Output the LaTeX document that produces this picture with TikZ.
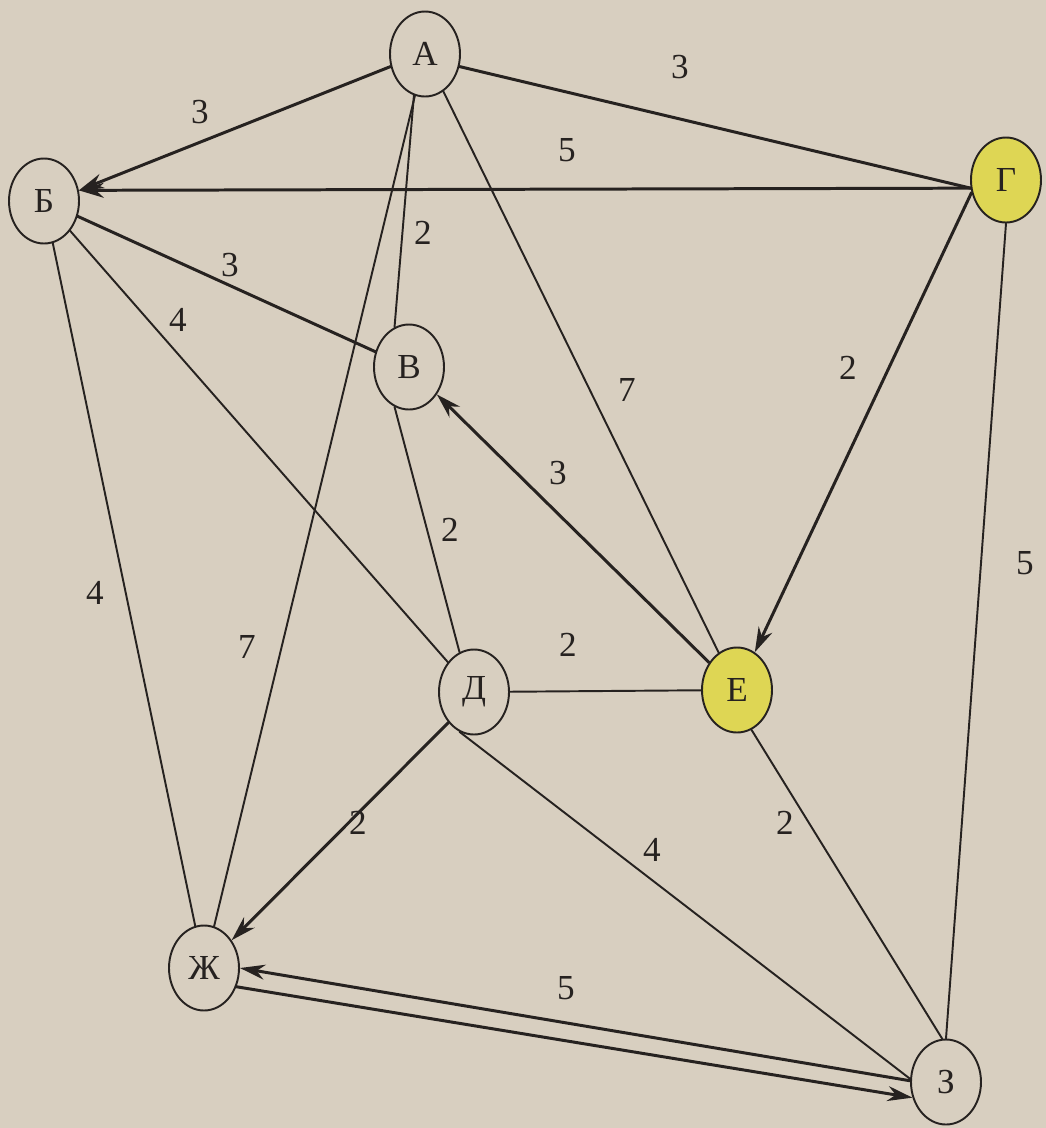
\documentclass[tikz,border=0pt]{standalone}
\usepackage{fontspec}
\setmainfont{Liberation Serif}
\usetikzlibrary{arrows.meta,shapes.geometric}

\definecolor{paper}{RGB}{216,207,192}
\definecolor{ink}{RGB}{38,34,32}
\definecolor{marker}{RGB}{222,214,84}

\begin{document}
\begin{tikzpicture}[x=0.2mm,y=-0.2mm]
\tikzset{
  vertex/.style={ellipse,draw=ink,line width=1.1pt,minimum width=14mm,minimum height=17mm,inner sep=0pt,fill=paper,text=ink,font=\fontsize{20}{23}\selectfont},
  marked/.style={vertex,fill=marker},
  graphedge/.style={draw=ink,line width=1.1pt,line cap=round,line join=round},
  heavyedge/.style={graphedge,line width=1.7pt},
  directed/.style={heavyedge,-{Stealth[length=5mm,width=3mm]}},
  weight/.style={font=\fontsize{20}{23}\selectfont,text=ink,inner sep=1pt}
}
\fill[paper] (0,0) rectangle (1046,1128);
\useasboundingbox (0,0) rectangle (1046,1128);
\node[vertex] (n_A) at (425,54) {А};
\node[vertex] (n_B) at (44,201) {Б};
\node[vertex] (n_V) at (409,367) {В};
\node[marked] (n_G) at (1006,180) {Г};
\node[vertex] (n_D) at (474,692) {Д};
\node[marked] (n_E) at (737,690) {Е};
\node[vertex] (n_Zh) at (204,968) {Ж};
\node[vertex] (n_Z) at (946,1082) {З};
\draw[directed] (n_A.200) -- (n_B.17);
\draw[heavyedge] (n_A.-20) -- (n_G.193);
\draw[directed] (n_G.193) -- (n_B.17);
\draw[graphedge] (n_A.255) -- (n_V.110);
\draw[heavyedge] (n_B) -- (n_V);
\draw[graphedge] (n_B) -- (n_D);
\draw[graphedge] (n_B) -- (n_Zh);
\draw[graphedge] (n_A) -- (n_Zh);
\draw[graphedge] (n_A) -- (n_E);
\draw[directed] (n_G.200) -- (n_E);
\draw[directed] (n_E) -- (n_V);
\draw[graphedge] (n_V.250) -- (n_D.110);
\draw[graphedge] (n_D) -- (n_E);
\draw[directed] (n_D.230) -- (n_Zh);
\draw[graphedge] (n_D.250) -- (n_Z.175);
\draw[graphedge] (n_E.-70) -- (n_Z.95);
\draw[graphedge] (n_G.south) -- (n_Z.north);
\draw[directed] (n_Z.178) -- (n_Zh.0);
\draw[directed] (n_Zh.-30) -- (n_Z.205);
\node[weight] (w_AB) at (200,112) {3};
\node[weight] (w_AG) at (680,67) {3};
\node[weight] (w_BG) at (567,150) {5};
\node[weight] (w_AV) at (423,233) {2};
\node[weight] (w_BV) at (230,265) {3};
\node[weight] (w_BD) at (178,320) {4};
\node[weight] (w_AE) at (627,390) {7};
\node[weight] (w_GE) at (848,368) {2};
\node[weight] (w_EV) at (558,473) {3};
\node[weight] (w_VD) at (450,530) {2};
\node[weight] (w_DE) at (568,645) {2};
\node[weight] (w_BZh) at (95,593) {4};
\node[weight] (w_AZh) at (247,647) {7};
\node[weight] (w_GZ) at (1025,563) {5};
\node[weight] (w_DZh) at (358,823) {2};
\node[weight] (w_DZ) at (652,850) {4};
\node[weight] (w_EZ) at (785,823) {2};
\node[weight] (w_ZhZ) at (566,988) {5};
\end{tikzpicture}
\end{document}
